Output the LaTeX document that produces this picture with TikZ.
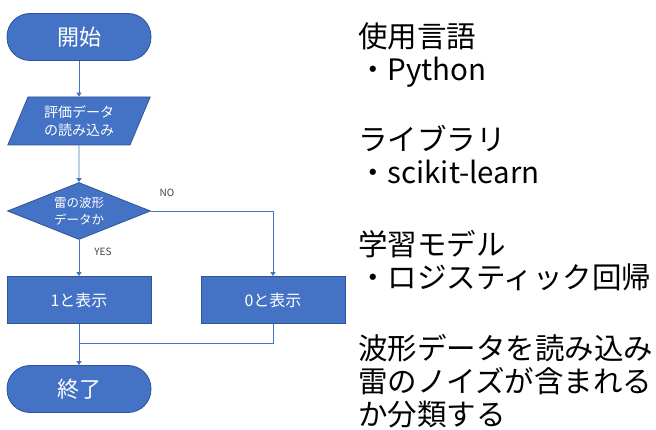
\documentclass[tikz,border=0pt]{standalone}
\usepackage{fontspec}
\setmainfont{Noto Sans CJK JP}
\usetikzlibrary{shapes.geometric,arrows.meta}
\definecolor{flowfill}{HTML}{4472C4}
\definecolor{flowedge}{HTML}{2F5597}
\definecolor{labgray}{HTML}{404040}
\tikzset{
	box/.style={draw=flowedge,fill=flowfill,text=white,line width=0.8pt,inner sep=0pt},
	term/.style={box,rectangle,rounded corners=23pt,minimum width=144pt,minimum height=47pt,font=\fontsize{22}{26}\selectfont},
	iobox/.style={box,trapezium,trapezium left angle=66,trapezium right angle=114,trapezium stretches=true,minimum width=143pt,minimum height=48pt,align=center,font=\fontsize{14}{18}\selectfont},
	decbox/.style={box,diamond,minimum width=143pt,minimum height=57pt,aspect=2.5,align=center,font=\fontsize{12.5}{17}\selectfont},
	procbox/.style={box,rectangle,minimum width=144pt,minimum height=47pt,font=\fontsize{16}{20}\selectfont},
	flow/.style={draw=flowfill,line width=0.8pt,-{Triangle[width=5pt,length=4pt]}},
	yn/.style={text=labgray,font=\fontsize{10}{12}\selectfont},
	memo/.style={anchor=base west,align=left,inner sep=0pt,font=\fontsize{29.5}{33}\selectfont}
}

\begin{document}
\begin{tikzpicture}[x=1pt,y=-1pt]
	\useasboundingbox (0,0) rectangle (656,430);
	
	\node[term] (start) at (79,37) {開始};
	\node[iobox] (read) at (79,121) {評価データ\\の読み込み};
	\node[decbox] (dec) at (79,211) {雷の波形\\データか};
	\node[procbox] (one) at (79,300) {1と表示};
	\node[procbox] (zero) at (273,300) {0と表示};
	\node[term] (stop) at (79,389) {終了};
	\coordinate (m) at (79,343);
	
	\draw[flow] (start) -- (read);
	\draw[flow] (read) -- (dec);
	\draw[flow] (dec) -- (one);
	\draw[flow] (dec.east) -| (zero.north);
	\draw[flow] (one) -- (stop);
	\draw[draw=flowfill,line width=0.8pt] (zero.south) |- (m);
	
	\node[yn] (no) at (167,193) {NO};
	\node[yn] (yes) at (103,252) {YES};
	
	% base = last line
	\node[memo] (lang) at (358,81) {使用言語\\・Python};
	\node[memo] (lib) at (358,184) {ライブラリ\\・scikit-learn};
	\node[memo] (model) at (358,289) {学習モデル\\・ロジスティック回帰};
	\node[memo] (task) at (358,425) {波形データを読み込み\\雷のノイズが含まれる\\か分類する};
\end{tikzpicture}
\end{document}
